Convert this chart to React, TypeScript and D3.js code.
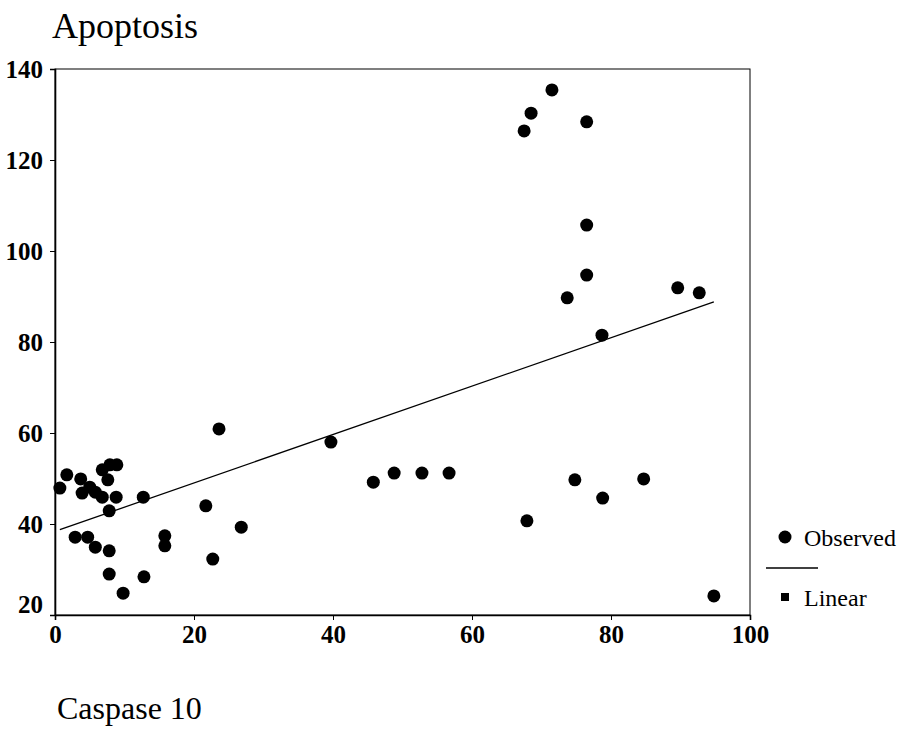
import React, { useEffect, useRef } from "react";
import * as d3 from "d3";

// Caspase 10 (x) vs Apoptosis (y)
const caspase10 = [
  0.7, 1.7, 3.7, 5.0, 3.9, 5.8, 6.8, 6.8, 7.9, 8.9, 7.6, 8.8, 7.8, 12.7,
  2.9, 4.7, 5.8, 7.8, 7.8, 9.8, 12.8,
  23.6, 39.7, 21.7, 26.8, 15.8, 15.8, 22.7,
  45.8, 48.8, 52.8, 56.7,
  67.9, 74.8, 78.8, 84.7,
  71.5, 68.5, 67.5, 76.5,
  76.5, 76.5, 73.7, 78.7, 89.6, 92.7,
  94.8,
];
const apoptosis = [
  47.9, 50.8, 49.9, 48.1, 46.8, 47.0, 45.9, 51.9, 53.0, 53.0, 49.7, 45.9, 42.9, 45.9,
  37.1, 37.1, 34.9, 34.1, 29.0, 24.8, 28.4,
  60.9, 58.0, 44.0, 39.3, 37.4, 35.2, 32.3,
  49.2, 51.2, 51.2, 51.2,
  40.7, 49.7, 45.7, 49.9,
  135.4, 130.3, 126.4, 128.4,
  105.7, 94.7, 89.7, 81.5, 91.9, 90.8,
  24.2,
];

const xTicks = [0, 20, 40, 60, 80, 100];
const yTicks = [20, 40, 60, 80, 100, 120, 140];
const legendLabels = ["Observed", "Linear"];

const serif = "'Liberation Serif', 'Times New Roman', serif";

export default function App() {
  const ref = useRef<SVGSVGElement>(null);

  useEffect(() => {
    const svg = d3.select(ref.current);
    svg.selectAll("*").remove();

    const left = 55, right = 750, top = 69, bottom = 615;
    const x = d3.scaleLinear().domain([0, 100]).range([left, right]);
    const y = d3.scaleLinear().domain([20, 140]).range([bottom, top]);

    const pts = caspase10.map((v, i) => ({ x: v, y: apoptosis[i] }));

    // least squares fit
    const mx = d3.mean(caspase10)!;
    const my = d3.mean(apoptosis)!;
    const sxy = d3.sum(pts, (p) => (p.x - mx) * (p.y - my));
    const sxx = d3.sum(pts, (p) => (p.x - mx) ** 2);
    const slope = sxy / sxx;
    const intercept = my - slope * mx;
    const [x0, x1] = d3.extent(caspase10) as [number, number];

    // frame
    svg.append("rect")
      .attr("x", left).attr("y", top)
      .attr("width", right - left).attr("height", bottom - top)
      .attr("fill", "none").attr("stroke", "#000").attr("stroke-width", 1);

    const xAxis = svg.append("g")
      .attr("transform", `translate(0,${bottom})`)
      .call(d3.axisBottom(x).tickValues(xTicks).tickSize(5).tickPadding(5).tickFormat(d3.format("d")));
    const yAxis = svg.append("g")
      .attr("transform", `translate(${left},0)`)
      .call(d3.axisLeft(y).tickValues(yTicks).tickSize(5).tickPadding(7).tickFormat(d3.format("d")));

    [xAxis, yAxis].forEach((g) => {
      g.select(".domain").attr("stroke-width", 1.6);
      g.selectAll("text")
        .attr("font-family", serif)
        .attr("font-size", 25)
        .attr("font-weight", "bold")
        .attr("fill", "#000");
    });
    // the lowest y label sits a little above its tick
    yAxis.selectAll<SVGTextElement, number>("text")
      .filter((d) => d === 20)
      .attr("dy", "-0.12em");

    // regression line
    const line = d3.line<number>()
      .x((d) => x(d))
      .y((d) => y(intercept + slope * d));
    svg.append("path")
      .attr("d", line([x0, x1]))
      .attr("fill", "none")
      .attr("stroke", "#000")
      .attr("stroke-width", 1.3);

    svg.append("g")
      .selectAll("circle")
      .data(pts)
      .enter()
      .append("circle")
      .attr("cx", (d) => x(d.x))
      .attr("cy", (d) => y(d.y))
      .attr("r", 6.5)
      .attr("fill", "#000");

    // titles
    svg.append("text")
      .attr("x", 52).attr("y", 38)
      .attr("font-family", serif).attr("font-size", 36)
      .text("Apoptosis");
    svg.append("text")
      .attr("x", 57).attr("y", 719)
      .attr("font-family", serif).attr("font-size", 32)
      .text("Caspase 10");

    // legend
    const lg = svg.append("g");
    lg.append("circle").attr("cx", 785).attr("cy", 537).attr("r", 6.5).attr("fill", "#000");
    lg.append("line")
      .attr("x1", 766).attr("x2", 818).attr("y1", 568).attr("y2", 568)
      .attr("stroke", "#000").attr("stroke-width", 1.3);
    lg.append("rect").attr("x", 781).attr("y", 593).attr("width", 8).attr("height", 8).attr("fill", "#000");
    lg.selectAll("text.lbl")
      .data(legendLabels)
      .enter()
      .append("text")
      .attr("class", "lbl")
      .attr("x", 804)
      .attr("y", (_, i) => (i === 0 ? 546 : 606))
      .attr("font-family", serif)
      .attr("font-size", 24)
      .text((d) => d);
  }, []);

  return (
    <svg
      ref={ref}
      width={901}
      height={732}
      style={{ position: "absolute", left: 0, top: 0, background: "#fff" }}
    />
  );
}
